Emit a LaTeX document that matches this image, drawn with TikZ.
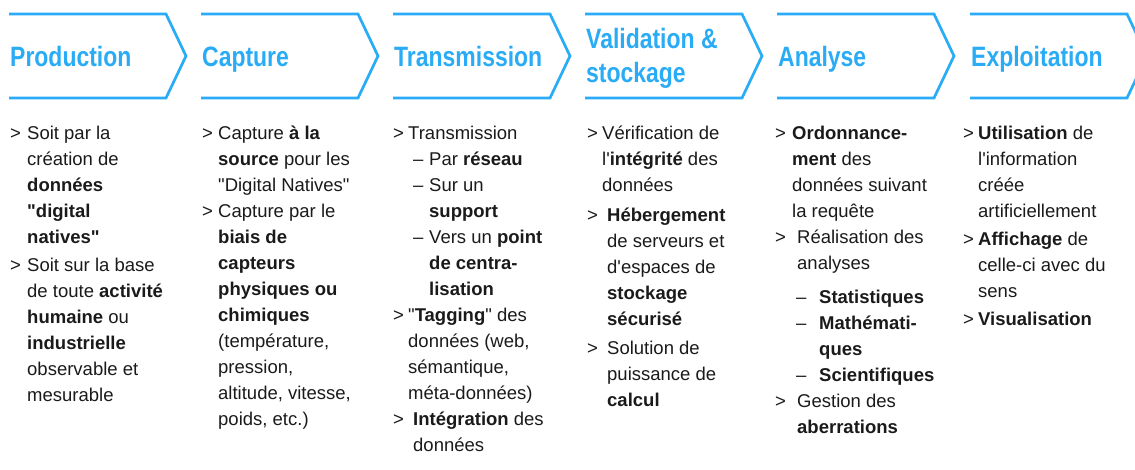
\documentclass[tikz,border=0pt]{standalone}
\usepackage{fontspec}
\setmainfont{Liberation Sans}
\newfontfamily\hdfont[FakeStretch=0.82]{Liberation Sans}
\definecolor{chevblue}{RGB}{41,171,245}
\definecolor{bodyink}{RGB}{26,26,26}
\newcommand\bu[2]{\makebox[#1][l]{>}#2}
\newcommand\ct[2]{\hspace*{#1}#2}
\newcommand\ds[3]{\hspace*{#1}\makebox[#2][l]{–}#3}
\newcommand\qd{\textquotedbl}
\newcommand\chevshape[1]{\draw[chev] (#1,14) -- ++(157,0) -- ++(20,42) -- ++(-20,42) -- ++(-157,0);}
\tikzset{
  chev/.style={draw=chevblue, line width=2.7pt, line join=miter},
  head/.style={anchor=base west, inner sep=0pt, text=chevblue, font=\hdfont\bfseries\fontsize{28}{34}\selectfont, align=left},
  col/.style={anchor=north west, inner sep=0pt, text=bodyink, font=\fontsize{18.5}{26}\selectfont, align=left},
}
\begin{document}
\begin{tikzpicture}[x=1pt,y=-1pt]
\useasboundingbox (0,0) rectangle (1135,469);
% chevrons
\foreach \cx in {9,201,393,585,777,970} {\chevshape{\cx}}
% headers
\node[head] (h1) at (10,66) {Production};
\node[head] (h2) at (202,66) {Capture};
\node[head] (h3) at (394,66) {Transmission};
\node[head, anchor=north west] (h4) at (586,24.2) {\strut Validation \&\\ stockage};
\node[head] (h5) at (778,66) {Analyse};
\node[head] (h6) at (971,66) {Exploitation};
% columns
\node[col] (c1) at (10,120.8) {\strut\bu{17pt}{Soit par la}\\
 \ct{17pt}{création de}\\
 \ct{17pt}{\textbf{données}}\\
 \ct{17pt}{\textbf{\qd{}digital}}\\
 \ct{17pt}{\textbf{natives\qd}}\\[2pt]
 \bu{17pt}{Soit sur la base}\\
 \ct{17pt}{de toute \textbf{activité}}\\
 \ct{17pt}{\textbf{humaine} ou}\\
 \ct{17pt}{\textbf{industrielle}}\\
 \ct{17pt}{observable et}\\
 \ct{17pt}{mesurable}};
\node[col] (c2) at (202,120.8) {\strut\bu{16pt}{Capture \textbf{à la}}\\
 \ct{16pt}{\textbf{source} pour les}\\
 \ct{16pt}{\qd{}Digital Natives\qd}\\
 \bu{16pt}{Capture par le}\\
 \ct{16pt}{\textbf{biais de}}\\
 \ct{16pt}{\textbf{capteurs}}\\
 \ct{16pt}{\textbf{physiques ou}}\\
 \ct{16pt}{\textbf{chimiques}}\\
 \ct{16pt}{(température,}\\
 \ct{16pt}{pression,}\\
 \ct{16pt}{altitude, vitesse,}\\
 \ct{16pt}{poids, etc.)}};
\node[col] (c3) at (393,120.8) {\strut\bu{15pt}{Transmission}\\
 \ds{20pt}{16pt}{Par \textbf{réseau}}\\
 \ds{20pt}{16pt}{Sur un}\\
 \ct{36pt}{\textbf{support}}\\
 \ds{20pt}{16pt}{Vers un \textbf{point}}\\
 \ct{36pt}{\textbf{de centra-}}\\
 \ct{36pt}{\textbf{lisation}}\\
 \bu{15pt}{\qd\textbf{Tagging}\qd{} des}\\
 \ct{15pt}{données (web,}\\
 \ct{15pt}{sémantique,}\\
 \ct{15pt}{méta-données)}\\
 \bu{20pt}{\textbf{Intégration} des}\\
 \ct{20pt}{données}};
\node[col] (c4) at (587,120.8) {\strut\bu{15pt}{Vérification de}\\
 \ct{15pt}{l\textquotesingle\textbf{intégrité} des}\\
 \ct{15pt}{données}\\[4pt]
 \bu{20pt}{\textbf{Hébergement}}\\
 \ct{20pt}{de serveurs et}\\
 \ct{20pt}{d\textquotesingle{}espaces de}\\
 \ct{20pt}{\textbf{stockage}}\\
 \ct{20pt}{\textbf{sécurisé}}\\[3pt]
 \bu{20pt}{Solution de}\\
 \ct{20pt}{puissance de}\\
 \ct{20pt}{\textbf{calcul}}};
\node[col] (c5) at (775,120.8) {\strut\bu{17pt}{\textbf{Ordonnance-}}\\
 \ct{17pt}{\textbf{ment} des}\\
 \ct{17pt}{données suivant}\\
 \ct{17pt}{la requête}\\
 \bu{22pt}{Réalisation des}\\
 \ct{22pt}{analyses}\\[8pt]
 \ds{21pt}{23pt}{\textbf{Statistiques}}\\
 \ds{21pt}{23pt}{\textbf{Mathémati-}}\\
 \ct{44pt}{\textbf{ques}}\\
 \ds{21pt}{23pt}{\textbf{Scientifiques}}\\
 \bu{22pt}{Gestion des}\\
 \ct{22pt}{\textbf{aberrations}}};
\node[col] (c6) at (963,120.8) {\strut\bu{15pt}{\textbf{Utilisation} de}\\
 \ct{15pt}{l\textquotesingle{}information}\\
 \ct{15pt}{créée}\\
 \ct{15pt}{artificiellement}\\[2pt]
 \bu{15pt}{\textbf{Affichage} de}\\
 \ct{15pt}{celle-ci avec du}\\
 \ct{15pt}{sens}\\[2pt]
 \bu{15pt}{\textbf{Visualisation}}};
\end{tikzpicture}
\end{document}
